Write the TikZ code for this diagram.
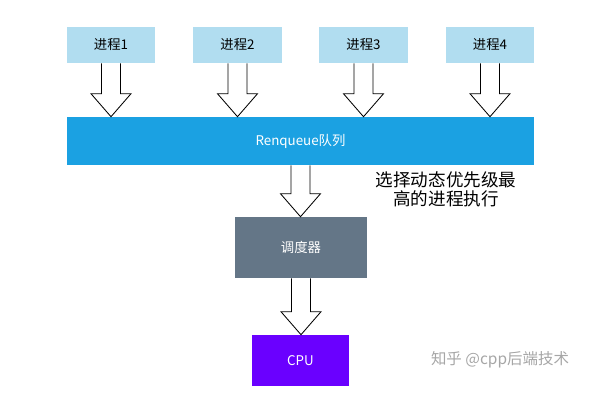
\documentclass[tikz,border=0pt]{standalone}
\usepackage{fontspec}
\setmainfont{Noto Sans CJK SC}
\usetikzlibrary{calc}

\definecolor{procblue}{HTML}{B1DDF0}
\definecolor{queueblue}{HTML}{1BA1E2}
\definecolor{schedgray}{HTML}{647687}
\definecolor{cpupurple}{HTML}{6A00FF}

\tikzset{
  procbox/.style={fill=procblue, minimum width=2.2cm, minimum height=0.9cm,
    inner sep=0pt, font=\fontsize{9.5}{11}\selectfont},
  whitebox/.style={minimum height=1.2cm, inner sep=0pt, text=white,
    font=\fontsize{9.5}{11}\selectfont},
  fatarrow/.style={draw=black, fill=white, line width=0.6pt, line join=miter}
}

% hollow block arrow from the bottom of #1 down to the top of #2
\newcommand{\fatarrow}[2]{%
  \path (#1.south) coordinate (s) (#1.south |- #2.north) coordinate (t);
  \draw[fatarrow] ($(s)+(-9.5,0)$) -- ($(t)+(-9.5,-23)$) -- ($(t)+(-20,-23)$)
    -- (t) -- ($(t)+(20,-23)$) -- ($(t)+(9.5,-23)$) -- ($(s)+(9.5,0)$);
}

\begin{document}
\begin{tikzpicture}[x=0.025cm, y=-0.025cm]
      \useasboundingbox (0,0) rectangle (600,400) ;
      % processes
      \node[procbox] (p1) at (111,45) {进程1} ;
      \node[procbox] (p2) at (237.5,45) {进程2} ;
      \node[procbox] (p3) at (363.5,45) {进程3} ;
      \node[procbox] (p4) at (490,45) {进程4} ;
      % queue, scheduler, cpu
      \node[whitebox, fill=queueblue, minimum width=11.675cm] %
      (queue) at (300.5,141) {Renqueue队列} ;
      \node[whitebox, fill=schedgray, minimum width=3.3cm, minimum height=1.525cm] %
      (sched) at (301,247.5) {调度器} ;
      \node[whitebox, fill=cpupurple, minimum width=2.425cm, minimum height=1.275cm] %
      (cpu) at (300.5,360.5) {CPU} ;
      % arrows
      \fatarrow{p1}{queue}
      \fatarrow{p2}{queue}
      \fatarrow{p3}{queue}
      \fatarrow{p4}{queue}
      \fatarrow{queue}{sched}
      \fatarrow{sched}{cpu}
      % texts
      \node[align=center, font=\fontsize{12.5}{13.5}\selectfont] %
      (note) at (446,189) {选择动态优先级最\\高的进程执行} ;
      \node[text=gray!70, font=\fontsize{11}{12}\selectfont] %
      (mark) at (500,360) {知乎 @cpp后端技术} ;
    \end{tikzpicture}
\end{document}
